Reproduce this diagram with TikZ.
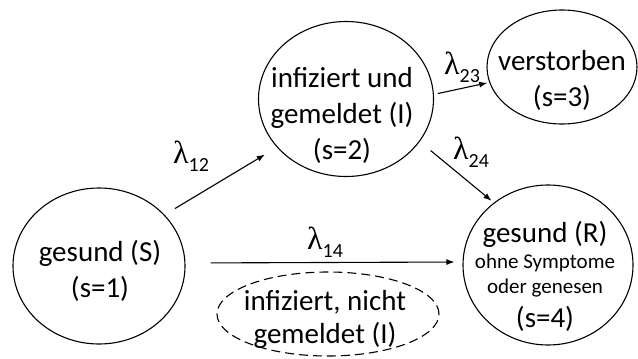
\documentclass[tikz,border=0pt]{standalone}
\usepackage{fontspec}
\setmainfont{Carlito}
\newfontfamily\grfont{Liberation Serif}
\usetikzlibrary{shapes.geometric,arrows.meta}
\newcommand{\lam}[1]{{\fontsize{32}{33}\selectfont\grfont λ}\raisebox{-8pt}{\fontsize{20}{20}\selectfont #1}}
\begin{document}
\begin{tikzpicture}[x=1pt,y=-1pt,
  st/.style={draw,ellipse,line width=1.1pt,inner sep=0pt},
  txt/.style={align=center,font=\fontsize{29}{36}\selectfont},
  sm/.style={font=\fontsize{21}{26}\selectfont,anchor=base},
  big/.style={font=\fontsize{29}{36}\selectfont,anchor=base},
  arr/.style={line width=1.1pt,-{Latex[length=8pt,width=6pt]}},
  lab/.style={inner sep=0pt}]
\useasboundingbox (0,0) rectangle (638,359);
% states
\node[st,minimum width=172pt,minimum height=156pt] (S) at (99,266) {};
\node[st,minimum width=175pt,minimum height=155pt] (I) at (346,99) {};
\node[st,minimum width=150pt,minimum height=114pt] (V) at (562,67) {};
\node[st,minimum width=170pt,minimum height=160pt] (R) at (548,265) {};
\node[st,dashed,dash pattern=on 9pt off 5pt,minimum width=222pt,minimum height=84pt] (D) at (328,314) {};
% texts
\node[txt] (Stxt) at (100,271) {gesund (S)\\(s=1)};
\node[txt] (Itxt) at (342,115) {infiziert und\\gemeldet (I)\\(s=2)};
\node[txt] (Vtxt) at (562,80) {verstorben\\(s=3)};
\node[txt,font=\fontsize{29}{33}\selectfont] (Dtxt) at (325,319) {infiziert, nicht\\gemeldet (I)};
\node[big] (R1) at (545,242) {gesund (R)};
\node[sm] (R2) at (545,268.5) {ohne Symptome};
\node[sm] (R3) at (545,293.5) {oder genesen};
\node[big] (R4) at (545,327) {(s=4)};
% transitions
\draw[arr,shorten <=12pt,shorten >=14pt] (S.38) -- (I.215);
\draw[arr,shorten <=4pt,shorten >=2pt] (I.3) -- (V.192);
\draw[arr,shorten <=14pt,shorten >=3pt] (I.-30) -- (R.131);
\draw[arr,shorten <=25pt,shorten >=8pt] ([yshift=3pt]S.east) -- ([yshift=3pt]R.west);
% rates
\node[lab] (l12) at (191,156) {\lam{12}};
\node[lab] (l23) at (462,67) {\lam{23}};
\node[lab] (l24) at (471,152) {\lam{24}};
\node[lab] (l14) at (325,242) {\lam{14}};
\end{tikzpicture}
\end{document}
